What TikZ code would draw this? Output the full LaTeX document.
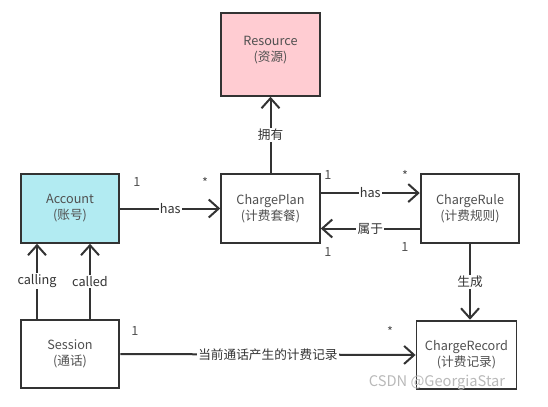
\documentclass[tikz,border=0pt]{standalone}
\usepackage{fontspec}
\setmainfont{Noto Sans CJK SC}
\usepackage{xcolor}
\usepackage{tikz}
\usetikzlibrary{arrows.meta, positioning, calc}

\definecolor{edgegray}{HTML}{333333}
\definecolor{textgray}{HTML}{505050}
\definecolor{resfill}{HTML}{FFCCD2}
\definecolor{accfill}{HTML}{B2EBF2}

\begin{document}
\begin{tikzpicture}[
        x=0.75pt, y=-0.75pt,
        font=\fontsize{9.5}{12}\selectfont,
        cls/.style={rectangle, draw=edgegray, line width=1.4pt, fill=white, text=textgray,
            minimum width=74pt, minimum height=51.5pt, inner sep=0pt, align=center},
        arrow/.style={-{Straight Barb[length=7.5pt, width=13.5pt]}, line width=1.5pt, draw=edgegray},
        lbl/.style={fill=white, inner sep=1pt, text=edgegray},
        mult/.style={text=textgray, inner sep=0pt}
    ]
    \useasboundingbox (0,0) rectangle (548,406);

    % classes
    \node (res) [cls, fill=resfill, minimum height=62pt, text depth=9pt] at (270.5,54.5) {Resource\\(资源)};
    \node (plan) [cls] at (270.5,208.5) {ChargePlan\\(计费套餐)};
    \node (acc) [cls, fill=accfill] at (70,208.5) {Account\\(账号)};
    \node (rule) [cls] at (470,208.5) {ChargeRule\\(计费规则)};
    \node (ses) [cls] at (70,354) {Session\\(通话)};
    \node (rec) [cls, minimum width=75pt] at (466.5,355) {ChargeRecord\\(计费记录)};

    % associations
    \draw[arrow] (plan.north) -- node[lbl] {拥有} (res.south);
    \draw[arrow] (acc.east) -- node[lbl] {has} (plan.west);
    \draw[arrow] ([yshift=11.6pt]plan.east) -- node[lbl] {has} ([yshift=11.6pt]rule.west);
    \draw[arrow] ([yshift=-15pt]rule.west) -- node[lbl] {属于} ([yshift=-15pt]plan.east);
    \draw[arrow] ([xshift=-24.75pt]ses.north) -- node[lbl] {calling} ([xshift=-24.75pt]acc.south);
    \draw[arrow] ([xshift=15pt]ses.north) -- node[lbl] {called} ([xshift=15pt]acc.south);
    \draw[arrow] (rule.south) -- node[lbl] {生成} (rule.south |- rec.north);
    \draw[arrow] (ses.east) -- node[lbl] {当前通话产生的计费记录} (rec.west);

    % multiplicities
    \node (m1) [mult] at (137,182) {1};
    \node (m2) [mult] at (205,182) {*};
    \node (m3) [mult] at (328,175) {1};
    \node (m4) [mult] at (405,175) {*};
    \node (m5) [mult] at (328,252) {1};
    \node (m6) [mult] at (405,247) {1};
    \node (m7) [mult] at (135,331) {1};
    \node (m8) [mult] at (390,331) {*};

    % watermark
    \node (wm) [text=gray!55, font=\fontsize{11}{13}\selectfont] at (437,383) {CSDN @GeorgiaStar};
\end{tikzpicture}
\end{document}
